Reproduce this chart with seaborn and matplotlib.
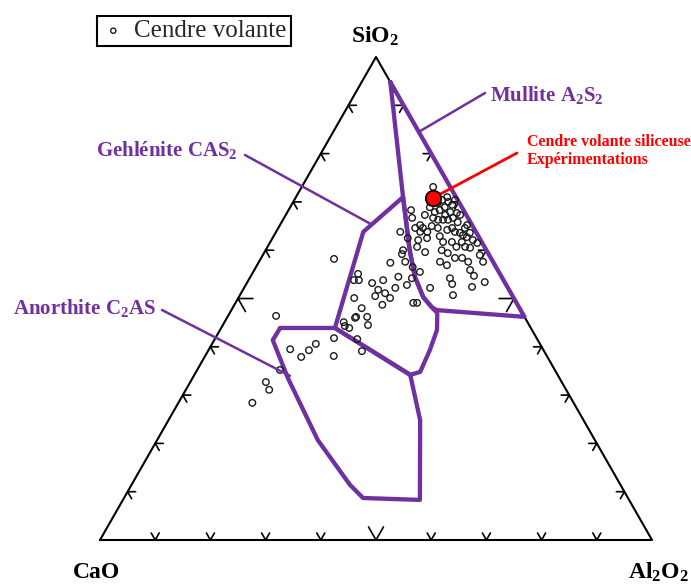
import numpy as np
import pandas as pd
import matplotlib
matplotlib.use("Agg")
import matplotlib.pyplot as plt
import seaborn as sns

# Fly ash compositions (wt%), CaO = 100 - SiO2 - Al2O3
ash_sio2 = [73.1, 68.3, 66.7, 68.9, 67.9, 68.3, 68.9, 70.0, 69.4, 70.4,
            67.9, 67.7, 67.3, 66.7, 66.3, 66.3, 66.3, 66.7, 65.2, 64.6,
            64.6, 63.8, 63.8, 64.6, 64.2, 64.6, 63.8, 63.6, 64.6, 65.2,
            63.6, 62.7, 62.1, 61.5, 61.7, 61.7, 61.7, 63.8, 60.0, 59.2,
            62.5, 60.0, 59.4, 58.4, 58.4, 60.7, 59.0, 57.6, 59.6, 60.7,
            57.4, 57.6, 56.5, 57.6, 55.9, 54.5, 52.8, 53.8, 54.2, 54.2,
            52.4, 53.4, 52.2, 50.7, 51.8, 51.1, 50.1, 48.7, 49.1, 49.1,
            70.4, 71.0, 69.8, 67.3, 65.8, 63.1, 62.9, 65.0, 60.5, 60.7,
            57.6, 56.9, 54.7, 55.5, 52.2, 53.0, 71.2, 67.3, 62.1, 62.5,
            58.2, 55.1, 53.8, 53.8, 50.1, 48.0, 46.0, 45.1, 43.9, 44.3,
            46.2, 44.5, 46.2, 41.6, 39.1, 50.5, 53.2,
            46.4, 39.5, 37.9, 39.3, 40.6, 41.8, 38.1, 35.2, 32.7, 31.1, 28.4]
ash_al2o3 = [23.8, 22.2, 23.2, 25.3, 26.7, 27.4, 28.0, 28.1, 29.1, 29.1,
             29.5, 30.8, 31.6, 27.0, 28.1, 29.0, 29.9, 30.6, 25.4, 24.8,
             26.2, 27.4, 26.1, 28.9, 30.8, 31.5, 32.4, 33.4, 33.8, 33.9,
             35.2, 35.1, 36.5, 37.6, 34.7, 32.9, 31.3, 22.5, 24.9, 25.1,
             28.0, 31.9, 33.3, 35.1, 36.4, 35.8, 39.3, 40.6, 29.1, 27.1,
             23.9, 26.5, 28.4, 32.8, 39.1, 26.8, 29.2, 24.4, 29.4, 36.3,
             41.2, 43.0, 33.7, 38.6, 24.5, 26.1, 27.5, 26.8, 32.2, 32.9,
             26.8, 27.4, 26.3, 25.2, 31.9, 34.2, 30.1, 27.6, 36.8, 34.2,
             37.9, 34.4, 40.4, 30.2, 27.4, 37.3, 25.4, 28.9, 26.6, 24.5,
             13.3, 19.2, 20.0, 19.1, 21.0, 23.4, 23.2, 21.6, 23.2, 22.2,
             25.3, 26.3, 23.3, 25.8, 27.9, 24.6, 22.7,
             8.7, 14.7, 17.5, 18.2, 18.8, 21.5, 23.3, 15.0, 13.7, 15.1, 13.4]

# Siliceous fly ash used in the experiments
exp_sio2 = [70.8]
exp_al2o3 = [24.9]

# Phase fields (polygon vertices, wt%)
mullite_sio2 = [94.8, 71.0, 60.0, 54.5, 50.3, 48.2, 47.6, 46.2]
mullite_al2o3 = [5.2, 19.4, 26.1, 29.8, 33.4, 36.0, 37.2, 53.8]
gehlenite_sio2 = [71.0, 63.8, 43.9, 34.2, 34.8, 39.3, 43.5, 47.0, 48.2, 50.3, 54.5, 60.0]
gehlenite_al2o3 = [19.4, 15.8, 20.6, 39.1, 40.6, 40.1, 39.3, 37.6, 36.0, 33.4, 29.8, 26.1]
anorthite_sio2 = [43.9, 43.9, 34.2, 24.8, 8.3, 8.7, 11.4, 20.7, 33.5, 41.4]
anorthite_al2o3 = [10.7, 20.6, 39.1, 45.6, 53.8, 43.3, 39.6, 29.1, 17.3, 10.6]

tick_fracs = [0.1, 0.2, 0.3, 0.4, 0.5, 0.6, 0.7, 0.8, 0.9]

PURPLE = "#7030A0"
H = np.sqrt(3) / 2


def tern(sio2, al2o3):
    s = np.asarray(sio2, dtype=float) / 100
    a = np.asarray(al2o3, dtype=float) / 100
    return a + s / 2, s * H


sns.set_style("white")
plt.rcParams["font.family"] = ["Liberation Serif", "DejaVu Serif"]
plt.rcParams["mathtext.fontset"] = "custom"
plt.rcParams["mathtext.rm"] = "Liberation Serif:bold"
plt.rcParams["mathtext.it"] = "Liberation Serif:bold"
plt.rcParams["mathtext.bf"] = "Liberation Serif:bold"

fig = plt.figure(figsize=(6.91, 5.86), dpi=100)
ax = fig.add_axes([0, 0, 1, 1])
ax.set_xlim(-100 / 552, 591 / 552)
ax.set_ylim(-46 / 557.7, 540 / 557.7)
ax.axis("off")

# triangle
ax.plot([0, 1, 0.5, 0], [0, 0, H, 0], color="black", lw=1.5, zorder=1)

# chevron ticks on each side
edges = [
    (lambda t: (t, 0.0), (0.5, H), (-0.5, H)),                  # bottom
    (lambda t: (0.5 * t, H * t), (1.0, 0.0), (0.5, -H)),         # left
    (lambda t: (1 - 0.5 * t, H * t), (-1.0, 0.0), (-0.5, -H)),   # right
]
for pos, d1, d2 in edges:
    for t in tick_fracs:
        L = 0.027 if t == 0.5 else 0.0145
        px, py = pos(t)
        ax.plot([px + d1[0] * L, px, px + d2[0] * L],
                [py + d1[1] * L, py, py + d2[1] * L],
                color="black", lw=1.2, zorder=1)

# phase fields
for s_list, a_list in [(mullite_sio2, mullite_al2o3),
                       (gehlenite_sio2, gehlenite_al2o3),
                       (anorthite_sio2, anorthite_al2o3)]:
    x, y = tern(s_list + s_list[:1], a_list + a_list[:1])
    ax.plot(x, y, color=PURPLE, lw=3.1, solid_joinstyle="round", zorder=2)

# fly ash points
ax_x, ax_y = tern(ash_sio2, ash_al2o3)
ash = pd.DataFrame({"x": ax_x, "y": ax_y})
sns.scatterplot(data=ash, x="x", y="y", ax=ax, s=22, marker="o",
                facecolor="none", edgecolor="#1a1a1a", linewidth=1.0,
                label="Cendre volante", zorder=3)

ex, ey = tern(exp_sio2, exp_al2o3)
sns.scatterplot(x=ex, y=ey, ax=ax, s=125, color="red", edgecolor="black",
                linewidth=1.2, zorder=5)

# leader lines
leaders = [
    ((84.5, 15.5), (485 / 691, 1 - 93 / 586), PURPLE, 1.8),
    ((65.4, 16.4), (245 / 691, 1 - 155 / 586), PURPLE, 1.8),
    ((34.0, 17.4), (162 / 691, 1 - 310 / 586), PURPLE, 1.8),
    ((exp_sio2[0], exp_al2o3[0]), (517 / 691, 1 - 153 / 586), "red", 2.0),
]
for (s, a), txy, col, lw in leaders:
    tx, ty = tern(s, a)
    ax.annotate("", xy=(tx, ty), xytext=txy, textcoords="figure fraction",
                arrowprops=dict(arrowstyle="-", color=col, lw=lw,
                                shrinkA=0, shrinkB=0), zorder=4)

# labels
lab = dict(color=PURPLE, fontsize=15, fontweight="bold", va="center")
fig.text(490 / 691, 1 - 95 / 586, "Mullite A$_2$S$_2$", ha="left", **lab)
fig.text(238 / 691, 1 - 150 / 586, "Gehlénite CAS$_2$", ha="right", **lab)
fig.text(13 / 691, 1 - 308 / 586, "Anorthite C$_2$AS", ha="left", **lab)
fig.text(527 / 691, 1 - 151 / 586, "Cendre volante siliceuse\nExpérimentations",
         ha="left", va="center", color="red", fontsize=11.5, fontweight="bold",
         linespacing=1.1)

vert = dict(fontsize=17, fontweight="bold", ha="center", va="center", color="black")
fig.text(375 / 691, 1 - 36 / 586, "SiO$_2$", **vert)
fig.text(97 / 691, 1 - 572 / 586, "CaO", **vert)
fig.text(658 / 691, 1 - 572 / 586, "Al$_2$O$_2$", **vert)

leg = ax.legend(loc="upper left", bbox_to_anchor=(97 / 691, 1 - 16 / 586),
                bbox_transform=fig.transFigure, frameon=True, fancybox=False,
                edgecolor="black", framealpha=1, fontsize=18, borderpad=0.15,
                handletextpad=0.35, handlelength=1.0, borderaxespad=0,
                markerscale=0.8)
leg.get_frame().set_linewidth(1.5)

fig.savefig("out.png", dpi=100)
